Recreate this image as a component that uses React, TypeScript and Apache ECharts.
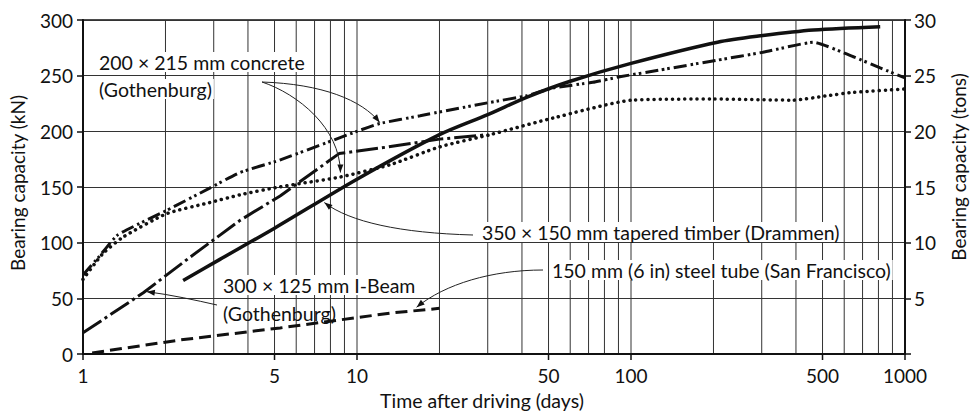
import React, { useEffect, useRef } from "react";
import * as echarts from "echarts";

// ---- data (days, kN) ----
const concreteDashDays = [1, 1.15, 1.34, 2.02, 2.9, 3.74, 5.2, 10, 12.1, 17, 30.6, 41.7, 52, 72.6, 91, 127, 207, 303, 463, 648, 812, 1000];
const concreteDashVals = [71, 88, 107, 129, 149, 163, 174, 200, 207, 214, 226, 232, 239, 244, 249, 255, 264, 271, 280, 267, 257, 248];

const concreteDotDays = [1, 1.18, 1.4, 2.02, 2.9, 3.74, 5.2, 8.7, 13.2, 20, 30.6, 52, 101, 200, 390, 520, 648, 1000];
const concreteDotVals = [67, 90, 105, 126, 136, 143, 150, 159, 170, 186, 197, 212, 228, 229, 228, 232, 235, 238];

const iBeamDays = [1, 1.66, 2.46, 3.74, 5.24, 8.6, 13, 20, 30];
const iBeamVals = [19, 55, 87, 120, 142, 180, 186, 193, 197];

const timberDays = [2.32, 3.16, 5, 10, 20, 30, 42, 60, 100, 207, 303, 463, 812];
const timberVals = [66, 85, 113, 157, 197, 215, 231, 245, 261, 280, 286, 291, 294];

const steelDays = [1.08, 2.26, 5.24, 13.2, 20];
const steelVals = [1, 12.6, 23.4, 36.7, 41];

const xLabelValues = [1, 5, 10, 50, 100, 500, 1000];
const xGridValues = [2, 3, 4, 5, 6, 7, 8, 9, 10, 20, 30, 40, 50, 60, 70, 80, 90, 100, 200, 300, 400, 500, 600, 700, 800, 900];

const FONT = "Lato";
const FS = 19;
const TFS = 19.5;

export default function App() {
  const ref = useRef<HTMLDivElement>(null);
  useEffect(() => {
    const chart = echarts.init(ref.current!, null, { renderer: "svg" });
    const zip = (d: number[], v: number[]) => d.map((x, i) => [x, v[i]]);
    const lineSeries = (name: string, data: number[][], style: any, smooth: any = false) => ({
      name,
      type: "line",
      data,
      showSymbol: false,
      symbol: "none",
      smooth,
      silent: true,
      lineStyle: { color: "#111", ...style },
      z: 3,
    });
    chart.setOption({
      animation: false,
      backgroundColor: "#fff",
      grid: { left: 83, right: 72, top: 20, bottom: 62, show: true, borderColor: "#111", borderWidth: 1.5 },
      xAxis: {
        type: "log",
        logBase: 10,
        min: 1,
        max: 1000,
        axisLine: { show: true, lineStyle: { color: "#111", width: 2 } },
        axisTick: { show: false },
        axisLabel: { show: false },
        splitLine: { show: false },
      },
      yAxis: [
        {
          type: "value",
          min: 0,
          max: 300,
          interval: 50,
          axisLine: { show: true, lineStyle: { color: "#111", width: 2 } },
          axisTick: { show: true, length: 6, lineStyle: { color: "#111", width: 1.5 } },
          axisLabel: { color: "#111", fontFamily: FONT, fontSize: FS, margin: 10 },
          splitLine: { show: true, lineStyle: { color: "#333", width: 1 } },
        },
        {
          type: "value",
          min: 0,
          max: 30,
          interval: 5,
          position: "right",
          axisLine: { show: true, lineStyle: { color: "#111", width: 2 } },
          axisTick: { show: true, length: 6, lineStyle: { color: "#111", width: 1.5 } },
          axisLabel: { color: "#111", fontFamily: FONT, fontSize: FS, margin: 9, formatter: (v: number) => (v === 0 ? "" : String(v)) },
          splitLine: { show: false },
        },
      ],
      series: [
        lineSeries("200 × 215 mm concrete A", zip(concreteDashDays, concreteDashVals), { width: 3, type: [13, 4, 2.5, 3, 2.5, 4] }, 0.15),
        lineSeries("200 × 215 mm concrete B", zip(concreteDotDays, concreteDotVals), { width: 3.5, type: [0.1, 6], cap: "round" }, 0.2),
        lineSeries("300 × 125 mm I-Beam", zip(iBeamDays, iBeamVals), { width: 3, type: [22, 4, 3, 4] }),
        lineSeries("350 × 150 mm tapered timber", zip(timberDays, timberVals), { width: 3.5 }, 0.3),
        lineSeries("150 mm steel tube", zip(steelDays, steelVals), { width: 3, type: [12, 6] }),
      ],
    });

    const toPx = (x: number, y: number) => chart.convertToPixel({ xAxisIndex: 0, yAxisIndex: 0 }, [x, y]) as number[];
    const g: any[] = [];
    const top = toPx(1, 300)[1];
    const bottom = toPx(1, 0)[1];
    xGridValues.forEach((v) => {
      const x = toPx(v, 0)[0];
      g.push({ type: "line", z: 0, silent: true, shape: { x1: x, y1: top, x2: x, y2: bottom }, style: { stroke: "#333", lineWidth: 1 } });
    });
    xLabelValues.forEach((v) => {
      const x = toPx(v, 0)[0];
      g.push({ type: "line", z: 5, silent: true, shape: { x1: x, y1: bottom, x2: x, y2: bottom + 6 }, style: { stroke: "#111", lineWidth: 1.5 } });
      g.push({
        type: "text",
        z: 5,
        silent: true,
        x,
        y: bottom + 21,
        style: { text: String(v), font: `${FS}px ${FONT}`, fill: "#111", align: "center", verticalAlign: "middle" },
      });
    });

    const txt = (text: string, x: number, y: number, extra: any = {}) => ({
      type: "text",
      z: 1,
      silent: true,
      x,
      y,
      style: { text, font: `${TFS}px ${FONT}`, fill: "#111", verticalAlign: "middle", backgroundColor: "#fff", padding: [0, 2], ...extra },
    });
    g.push(txt("200 × 215 mm concrete", 97, 62));
    g.push(txt("(Gothenburg)", 97, 89));
    g.push(txt("350 × 150 mm tapered timber (Drammen)", 480, 232));
    g.push(txt("150 mm (6 in) steel tube (San Francisco)", 550, 270));
    g.push(txt("300 × 125 mm I-Beam", 221, 285));
    g.push(txt("(Gothenburg)", 221, 313, { backgroundColor: "transparent" }));

    // axis titles
    g.push({ type: "text", z: 5, silent: true, x: 482, y: 400, style: { text: "Time after driving (days)", font: `${TFS}px ${FONT}`, fill: "#111", align: "center", verticalAlign: "middle" } });
    g.push({ type: "text", z: 5, silent: true, x: 17, y: 183, rotation: Math.PI / 2, style: { text: "Bearing capacity (kN)", font: `${FS}px ${FONT}`, fill: "#111", align: "center", verticalAlign: "middle" } });
    g.push({ type: "text", z: 5, silent: true, x: 958, y: 167, rotation: Math.PI / 2, style: { text: "Bearing capacity (tons)", font: `${FS}px ${FONT}`, fill: "#111", align: "center", verticalAlign: "middle" } });

    // annotation arrows (start in px, end anchored to data coords)
    const arrows = [
      { s: [262, 82], c1: [322, 84], c2: [362, 100], to: [12.1, 208] },
      { s: [262, 82], c1: [298, 94], c2: [340, 128], to: [8.7, 163] },
      { s: [473, 235], c1: [400, 233], c2: [350, 222], to: [7.6, 136] },
      { s: [543, 270], c1: [492, 270], c2: [445, 284], to: [16.5, 42] },
      { s: [217, 305], c1: [195, 300], c2: [172, 295], to: [1.71, 56] },
    ];
    arrows.forEach((a) => {
      const e = toPx(a.to[0], a.to[1]);
      g.push({
        type: "bezierCurve",
        z: 4,
        silent: true,
        shape: { x1: a.s[0], y1: a.s[1], cpx1: a.c1[0], cpy1: a.c1[1], cpx2: a.c2[0], cpy2: a.c2[1], x2: e[0], y2: e[1] },
        style: { stroke: "#222", lineWidth: 1, fill: null },
      });
      const dx = e[0] - a.c2[0];
      const dy = e[1] - a.c2[1];
      const len = Math.hypot(dx, dy) || 1;
      const ux = dx / len, uy = dy / len;
      const L = 8, W = 3;
      const bx = e[0] - ux * L, by = e[1] - uy * L;
      g.push({
        type: "polygon",
        z: 4,
        silent: true,
        shape: { points: [[e[0], e[1]], [bx - uy * W, by + ux * W], [bx + uy * W, by - ux * W]] },
        style: { fill: "#111" },
      });
    });

    chart.setOption({ graphic: g });
    return () => chart.dispose();
  }, []);
  return <div ref={ref} style={{ position: "fixed", left: 0, top: 0, width: 977, height: 416 }} />;
}
